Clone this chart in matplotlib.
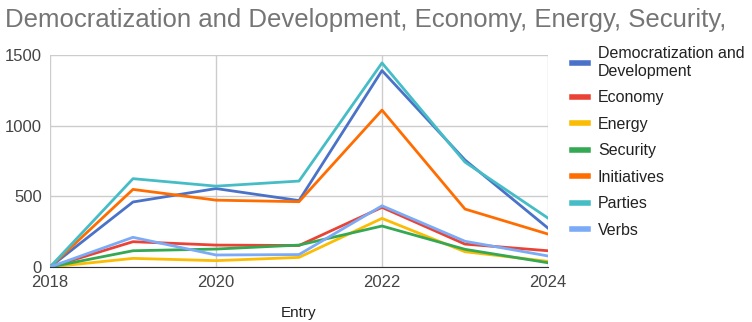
import matplotlib.pyplot as plt
from matplotlib.lines import Line2D

plt.rcParams['font.family'] = ['Liberation Sans', 'DejaVu Sans']

years = [2018, 2019, 2020, 2021, 2022, 2023, 2024]
democratization = [0, 460, 555, 470, 1390, 757, 275]
economy = [0, 179, 155, 152, 422, 162, 115]
energy = [0, 61, 45, 68, 344, 108, 40]
security = [0, 115, 127, 155, 290, 125, 30]
initiatives = [0, 549, 473, 462, 1110, 410, 233]
parties = [0, 625, 572, 608, 1444, 742, 346]
verbs = [0, 210, 85, 88, 433, 182, 78]

names = ['Democratization and\nDevelopment', 'Economy', 'Energy', 'Security',
         'Initiatives', 'Parties', 'Verbs']
series = [democratization, economy, energy, security, initiatives, parties, verbs]
colors = ['#4a72c8', '#ea4335', '#fbbc04', '#34a853', '#ff6d01', '#46bdc6', '#7baaf7']

fig = plt.figure(figsize=(7.52, 3.22), dpi=100)
ax = fig.add_axes([50 / 752, 1 - 267 / 322, 498 / 752, 212 / 322])

for vals, c in zip(series, colors):
    ax.plot(years, vals, color=c, lw=2.0, solid_joinstyle='round')

ax.set_xlim(2018, 2024)
ax.set_ylim(0, 1500)
ax.set_xticks([2018, 2020, 2022, 2024])
ax.set_yticks([0, 500, 1000, 1500])
ax.grid(color='#cccccc', lw=1)
for s in ['top', 'right', 'left']:
    ax.spines[s].set_visible(False)
ax.spines['bottom'].set_color('#333333')
ax.tick_params(length=0, labelsize=12, colors='#444444')
ax.tick_params(axis='x', pad=6)
ax.tick_params(axis='y', pad=6)
ax.set_axisbelow(True)
ax.set_xlabel('Entry', fontsize=11, color='#222222', labelpad=11)

fig.text(0.007, 1 - 27 / 322, 'Democratization and Development, Economy, Energy, Security,',
         fontsize=18.5, color='#757575', ha='left', va='baseline')

handles = [Line2D([], [], color=c, lw=4) for c in colors]
fig.legend(handles, names, loc='upper left', bbox_to_anchor=(558 / 752, 1 - 32 / 322),
           frameon=False, fontsize=11.5, handlelength=1.0, handletextpad=0.6,
           labelspacing=0.72, labelcolor='#222222')

fig.savefig('out.png', dpi=100)
